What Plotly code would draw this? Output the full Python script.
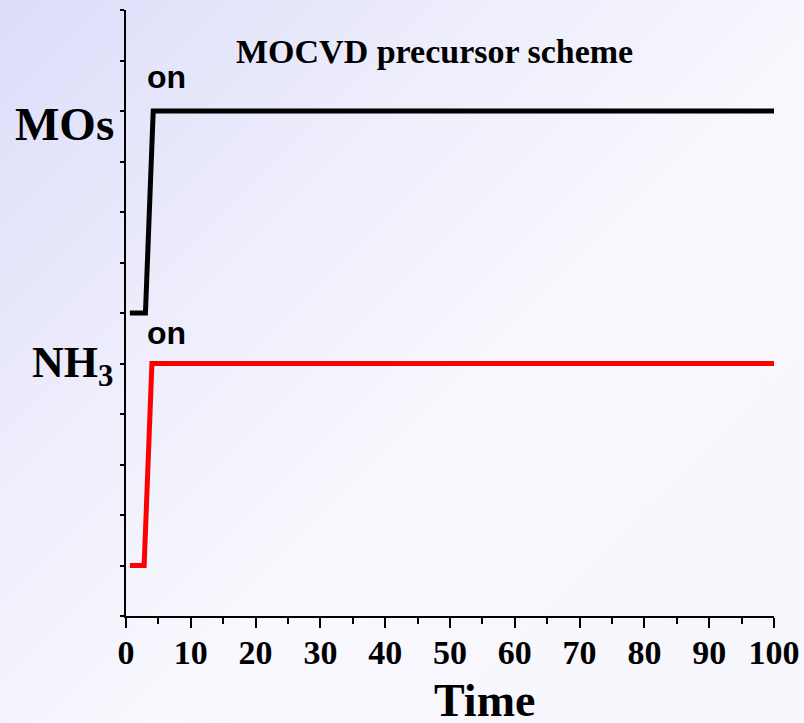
import base64
import plotly.graph_objects as go

# Data
time_mos = [0.6, 3.0, 4.2, 100]
level_mos = [6, 6, 10, 10]
time_nh3 = [0.6, 2.8, 4.0, 100]
level_nh3 = [1, 1, 5, 5]
x_ticks = [0, 10, 20, 30, 40, 50, 60, 70, 80, 90, 100]
y_ticks = list(range(0, 13))

W, H = 804, 723
X0, X1 = 126, 774
Y0, Y1 = 616, 10

svg = f'''<svg xmlns="http://www.w3.org/2000/svg" width="{W}" height="{H}">
<defs><linearGradient id="g" x1="0" y1="0" x2="1" y2="0.9">
<stop offset="0" stop-color="#dcdcfa"/>
<stop offset="0.35" stop-color="#eeeefc"/>
<stop offset="0.6" stop-color="#f8f8fe"/>
<stop offset="1" stop-color="#f6f6fc"/>
</linearGradient></defs>
<rect width="{W}" height="{H}" fill="url(#g)"/></svg>'''
src = "data:image/svg+xml;base64," + base64.b64encode(svg.encode()).decode()

fig = go.Figure()
fig.add_trace(go.Scatter(x=time_mos, y=level_mos, mode="lines",
                         line=dict(color="black", width=5), showlegend=False))
fig.add_trace(go.Scatter(x=time_nh3, y=level_nh3, mode="lines",
                         line=dict(color="#ff0000", width=5), showlegend=False))

serif = "Liberation Serif, Times New Roman, serif"
fig.update_layout(
    width=W, height=H,
    margin=dict(l=0, r=0, t=0, b=0, autoexpand=False),
    paper_bgcolor="rgba(0,0,0,0)",
    plot_bgcolor="rgba(0,0,0,0)",
    images=[dict(source=src, xref="paper", yref="paper", x=0, y=1,
                 sizex=1, sizey=1, xanchor="left", yanchor="top",
                 sizing="stretch", layer="below")],
    xaxis=dict(domain=[X0 / W, X1 / W], range=[0, 100], showgrid=False,
               automargin=False,
               zeroline=False, showline=True, linecolor="black", linewidth=2,
               tickmode="array", tickvals=x_ticks, ticktext=[str(v) for v in x_ticks],
               ticks="outside", ticklen=10, tickwidth=2, tickcolor="black",
               minor=dict(ticks="outside", ticklen=6, tickwidth=2, dtick=5,
                          tick0=0, tickcolor="black"),
               tickfont=dict(family=serif, size=34, color="black", weight="bold"),
               ticklabelstandoff=-5),
    yaxis=dict(domain=[(H - Y0) / H, (H - Y1) / H], range=[0, 12], showgrid=False,
               automargin=False,
               zeroline=False, showline=True, linecolor="black", linewidth=2,
               tickmode="array", tickvals=y_ticks, showticklabels=False,
               ticks="outside", ticklen=4, tickwidth=1.5, tickcolor="black"),
)

annots = [
    dict(text="<b>MOCVD precursor scheme</b>", x=435, y=52,
         font=dict(family=serif, size=34, color="black")),
    dict(text="<b>MOs</b>", x=64, y=124,
         font=dict(family=serif, size=47, color="black")),
    dict(text="<b>NH<sub>3</sub></b>", x=72, y=365,
         font=dict(family=serif, size=44, color="black")),
    dict(text="<b>on</b>", x=166, y=77,
         font=dict(family="Liberation Sans, Arial, sans-serif", size=32, color="black")),
    dict(text="<b>on</b>", x=166, y=333,
         font=dict(family="Liberation Sans, Arial, sans-serif", size=32, color="black")),
    dict(text="<b>Time</b>", x=484, y=700,
         font=dict(family=serif, size=46, color="black")),
]
for a in annots:
    fig.add_annotation(text=a["text"], x=a["x"] / W, y=1 - a["y"] / H,
                       xref="paper", yref="paper", showarrow=False,
                       xanchor="center", yanchor="middle", font=a["font"])

fig.write_html("out.html", config={"displayModeBar": False},
               post_script="document.body.style.margin='0';document.body.style.overflow='hidden';")
